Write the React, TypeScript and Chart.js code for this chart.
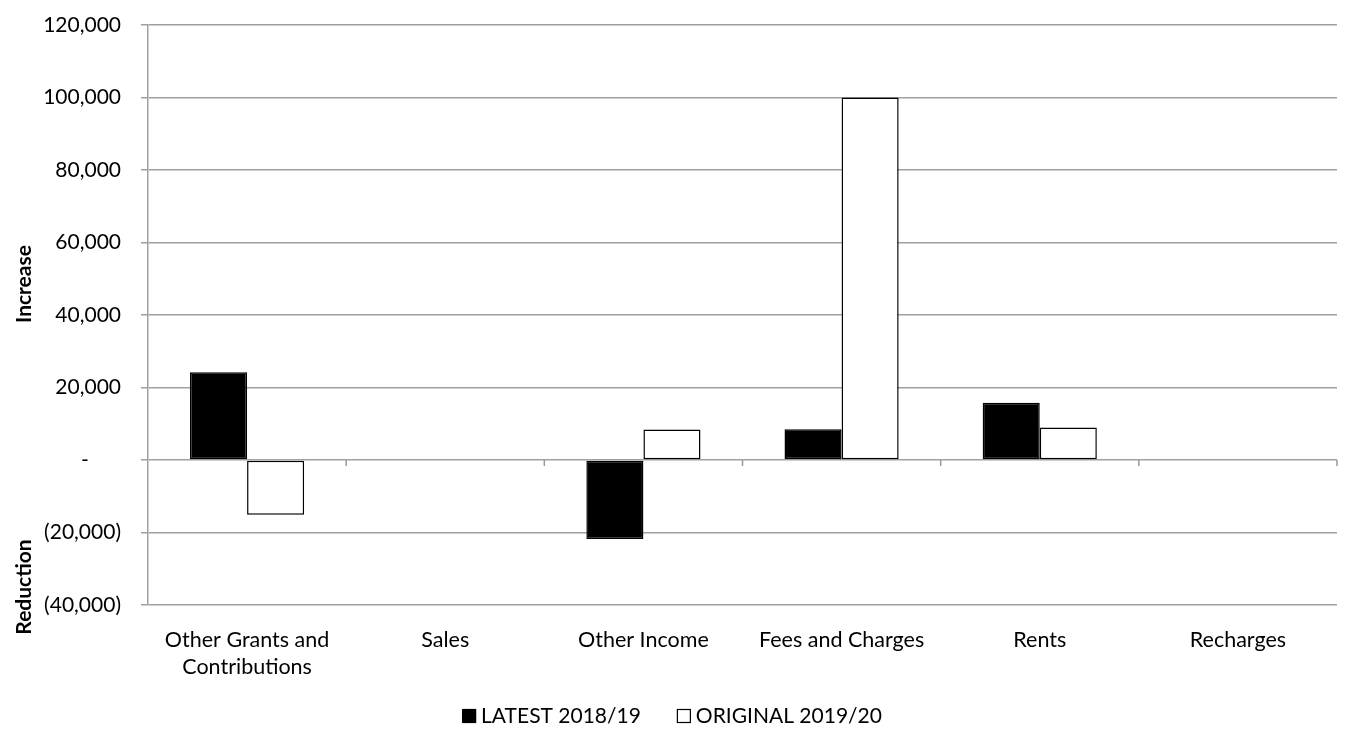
import React, { useEffect, useRef } from 'react';
import { Chart, registerables } from 'chart.js';

Chart.register(...registerables);

const categories: (string | string[])[] = [
  ['Other Grants and', 'Contributions'],
  'Sales',
  'Other Income',
  'Fees and Charges',
  'Rents',
  'Recharges',
];
const latestValues: (number | null)[] = [24200, null, -21800, 8500, 15800, null];
const originalValues: (number | null)[] = [-15100, null, 8400, 100000, 9000, null];
const seriesNames = ['LATEST 2018/19', 'ORIGINAL 2019/20'];
const yMin = -40000;
const yMax = 120000;
const yStep = 20000;
const axisTitleUp = 'Increase';
const axisTitleDown = 'Reduction';

const FONT = 'Lato';

function formatTick(v: number): string {
  if (v === 0) return '-      ';
  const s = Math.abs(v).toLocaleString('en-US');
  return v < 0 ? '(' + s + ')' : s;
}

const extrasPlugin = {
  id: 'extras',
  afterDatasetsDraw(chart: any) {
    const ctx = chart.ctx;
    const x = chart.scales.x;
    const y = chart.scales.y;
    const area = chart.chartArea;
    const zeroY = y.getPixelForValue(0);
    ctx.save();
    ctx.strokeStyle = '#999999';
    ctx.lineWidth = 1.5;
    const n = chart.data.labels.length;
    for (let i = 1; i <= n; i++) {
      const bx = i < n ? (x.getPixelForValue(i - 1) + x.getPixelForValue(i)) / 2 : area.right;
      ctx.beginPath();
      ctx.moveTo(bx, zeroY);
      ctx.lineTo(bx, zeroY + 6);
      ctx.stroke();
    }
    ctx.restore();
  },
  afterDraw(chart: any) {
    const ctx = chart.ctx;
    ctx.save();
    ctx.fillStyle = '#000';
    ctx.font = `bold 21px ${FONT}`;
    ctx.textAlign = 'center';
    ctx.textBaseline = 'middle';
    const drawRot = (t: string, cx: number, cy: number) => {
      ctx.save();
      ctx.translate(cx, cy);
      ctx.rotate(-Math.PI / 2);
      ctx.fillText(t, 0, 0);
      ctx.restore();
    };
    drawRot(axisTitleUp, 24, 284);
    drawRot(axisTitleDown, 24, 587);

    ctx.font = `21px ${FONT}`;
    ctx.textAlign = 'left';
    const box = 14;
    const gapBT = 5;
    const gapItems = 36;
    const ds = chart.data.datasets;
    const widths = ds.map((d: any) => ctx.measureText(d.label).width);
    const total = widths.reduce((a: number, w: number) => a + box + gapBT + w, 0) + gapItems * (ds.length - 1);
    let lx = 672 - total / 2;
    const ly = 716;
    ds.forEach((d: any, i: number) => {
      ctx.fillStyle = d.backgroundColor;
      ctx.fillRect(lx, ly - box / 2, box, box);
      ctx.strokeStyle = '#000';
      ctx.lineWidth = 1.2;
      ctx.strokeRect(lx + 0.5, ly - box / 2 + 0.5, box - 1, box - 1);
      ctx.fillStyle = '#000';
      ctx.fillText(d.label, lx + box + gapBT, ly);
      lx += box + gapBT + widths[i] + gapItems;
    });
    ctx.restore();
  },
};

export default function App() {
  const ref = useRef<HTMLCanvasElement | null>(null);
  useEffect(() => {
    if (!ref.current) return;
    const chart = new Chart(ref.current, {
      type: 'bar',
      data: {
        labels: categories,
        datasets: [
          {
            label: seriesNames[0],
            data: latestValues,
            backgroundColor: '#000000',
            borderColor: '#000000',
            borderWidth: 1.5,
            borderSkipped: false,
          },
          {
            label: seriesNames[1],
            data: originalValues,
            backgroundColor: '#ffffff',
            borderColor: '#000000',
            borderWidth: 1.5,
            borderSkipped: false,
          },
        ],
      },
      options: {
        animation: false,
        responsive: true,
        maintainAspectRatio: false,
        datasets: { bar: { categoryPercentage: 0.576, barPercentage: 1 } },
        layout: { padding: { top: 25, right: 12, bottom: 0, left: 0 } },
        plugins: {
          legend: { display: false },
          tooltip: { enabled: false },
        },
        scales: {
          x: {
            grid: { display: false, drawTicks: false },
            border: { display: false },
            ticks: {
              color: '#000',
              font: { family: FONT, size: 21.5, lineHeight: 1.25 },
              padding: 22,
              maxRotation: 0,
              autoSkip: false,
            },
            afterFit: (s: any) => {
              s.height = 124;
            },
          },
          y: {
            min: yMin,
            max: yMax,
            grid: { color: '#a0a0a0', lineWidth: 1.5, tickLength: 7, drawTicks: true },
            border: { display: true, color: '#a0a0a0', width: 1.5 },
            ticks: {
              stepSize: yStep,
              color: '#000',
              font: { family: FONT, size: 21 },
              padding: 20,
              callback: (v: any) => formatTick(Number(v)),
            },
            afterFit: (s: any) => {
              s.width = 148;
              s.paddingTop = 0;
              s.paddingBottom = 0;
            },
          },
        },
      },
      plugins: [extrasPlugin],
    });
    return () => chart.destroy();
  }, []);
  return (
    <div style={{ position: 'absolute', left: 0, top: 0, width: 1349, height: 729 }}>
      <canvas ref={ref} />
    </div>
  );
}
